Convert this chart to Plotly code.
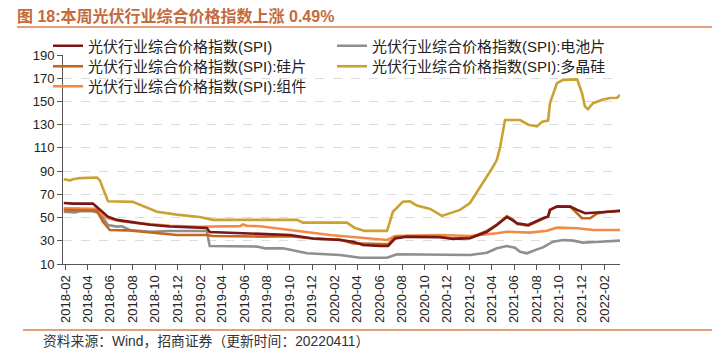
import plotly.graph_objects as go

# ---------------- data ----------------
spi_dates = ["2018-01-26", "2018-02-20", "2018-04-15", "2018-04-28", "2018-05-26", "2018-06-19",
             "2018-07-16", "2018-09-17", "2018-11-10", "2019-02-18", "2019-02-26", "2019-04-14",
             "2019-07-12", "2019-08-17", "2019-10-02", "2019-12-03", "2020-02-14", "2020-03-21",
             "2020-04-17", "2020-06-02", "2020-06-24", "2020-07-13", "2020-08-14", "2020-11-12",
             "2020-12-17", "2021-02-01", "2021-03-19", "2021-04-15", "2021-05-12", "2021-05-26",
             "2021-06-09", "2021-07-09", "2021-07-28", "2021-08-18", "2021-09-01", "2021-09-06",
             "2021-09-25", "2021-10-31", "2021-11-19", "2021-12-10", "2022-01-01", "2022-02-08",
             "2022-03-15"]
spi_vals = [62.5, 62, 62, 58.5, 50.8, 48, 46.6, 43.8, 42.3, 41, 37.5, 37, 36, 35.9, 35, 32, 30.7,
            29.2, 26.4, 25.5, 25.5, 32, 33.4, 33, 31.6, 32.2, 37.8, 43.6, 50.5, 48, 45.1, 43.6,
            46.5, 49.4, 51, 56.6, 59.4, 59.4, 56.6, 53.7, 54.2, 55, 55.6]

cell_dates = ["2018-01-26", "2018-02-25", "2018-03-11", "2018-04-15", "2018-05-04", "2018-05-26",
              "2018-06-19", "2018-07-03", "2018-07-24", "2018-09-17", "2018-11-10", "2019-02-18",
              "2019-02-26", "2019-04-30", "2019-07-04", "2019-07-26", "2019-09-13", "2019-11-17",
              "2020-02-14", "2020-04-09", "2020-06-21", "2020-07-18", "2020-11-12", "2021-02-01",
              "2021-03-19", "2021-04-15", "2021-05-12", "2021-06-03", "2021-06-17", "2021-07-06",
              "2021-08-02", "2021-08-18", "2021-09-14", "2021-10-12", "2021-11-08", "2021-12-05",
              "2022-01-20", "2022-03-15"]
cell_vals = [55, 54.5, 55.5, 55.5, 53.7, 43.6, 42.2, 42.5, 39.3, 37.8, 38.4, 38.4, 25.5, 25.5, 25,
             23.5, 23.5, 19.2, 17.8, 15.4, 15.4, 18.4, 18.4, 17.8, 19.7, 23.5, 25.5, 24, 20.6,
             19.2, 22.6, 24.3, 29.2, 30.7, 30.1, 28.4, 29.2, 30.1]

wafer_dates = ["2018-01-26", "2018-03-11", "2018-04-26", "2018-05-12", "2018-05-31", "2018-07-16",
               "2018-09-17", "2018-11-29", "2019-02-18", "2019-03-07", "2019-07-12", "2019-10-02",
               "2019-12-03", "2020-02-14", "2020-03-21", "2020-06-02", "2020-06-24", "2020-07-13",
               "2020-08-14", "2020-11-12", "2020-12-17", "2021-02-01", "2021-03-19", "2021-04-15",
               "2021-05-12", "2021-05-26", "2021-06-09", "2021-07-09", "2021-07-28", "2021-08-18",
               "2021-09-01", "2021-09-06", "2021-09-25", "2021-10-31", "2021-11-19", "2021-12-02",
               "2021-12-24", "2022-01-12", "2022-02-08", "2022-03-15"]
wafer_vals = [56.6, 56, 56, 46.6, 39.3, 39, 37, 35, 35, 34.1, 33.6, 34, 32, 31, 27.8, 27, 27, 33,
              34, 33.5, 32, 32.5, 38.5, 44, 51, 49, 44.5, 43, 46, 49.4, 51, 56.6, 59.6, 59.4, 53,
              49.4, 49.4, 53.5, 55, 56]

poly_dates = ["2018-01-26", "2018-02-12", "2018-02-20", "2018-03-11", "2018-04-26", "2018-05-04",
              "2018-05-26", "2018-08-01", "2018-10-06", "2018-11-29", "2019-01-30", "2019-03-07",
              "2019-07-12", "2019-10-21", "2019-11-06", "2020-03-04", "2020-03-26", "2020-04-22",
              "2020-06-21", "2020-07-07", "2020-08-03", "2020-08-22", "2020-09-10", "2020-10-16",
              "2020-11-17", "2021-01-05", "2021-02-01", "2021-03-08", "2021-04-02", "2021-04-15",
              "2021-04-24", "2021-05-07", "2021-06-17", "2021-07-09", "2021-08-02", "2021-08-16",
              "2021-09-01", "2021-09-06", "2021-09-25", "2021-10-12", "2021-11-19", "2021-12-02",
              "2021-12-10", "2021-12-18", "2022-01-01", "2022-01-26", "2022-02-16", "2022-03-07",
              "2022-03-15"]
poly_vals = [83, 82, 83, 84, 84.5, 82, 64, 63.5, 55, 52.5, 50.5, 48, 48, 48, 45.6, 45.6, 41, 38.5,
             38.5, 55, 63.7, 64, 60.3, 57.4, 51.4, 56.6, 62.5, 79.5, 92.5, 99.7, 111, 134, 134, 130,
             128.5, 132.6, 133.5, 148.5, 165.8, 168.6, 169, 157, 145.6, 143.4, 148.5, 151.4, 153,
             153.2, 155.7]

module_dates = ["2018-01-26", "2018-04-26", "2018-05-04", "2018-05-26", "2018-06-27", "2018-08-20",
                "2018-11-10", "2019-01-30", "2019-05-19", "2019-05-27", "2019-06-07", "2019-07-12",
                "2019-10-02", "2020-01-18", "2020-06-21", "2020-07-13", "2020-11-12", "2021-02-01",
                "2021-04-15", "2021-05-12", "2021-07-14", "2021-08-29", "2021-09-25", "2021-11-19",
                "2022-01-01", "2022-03-15"]
module_vals = [58, 57.5, 53.7, 49.4, 47, 45, 43, 42.1, 42.6, 44, 43, 42.5, 39.3, 35, 30.7, 34.1,
               35, 34.1, 36.5, 37.8, 37, 38.7, 41.3, 40.8, 39.3, 39.3]

names = ["光伏行业综合价格指数(SPI)", "光伏行业综合价格指数(SPI):电池片",
         "光伏行业综合价格指数(SPI):硅片", "光伏行业综合价格指数(SPI):多晶硅",
         "光伏行业综合价格指数(SPI):组件"]
colors = ["#7a1616", "#8f8f8f", "#c4661c", "#c9a231", "#f28a45"]

title_text = "图 18:本周光伏行业综合价格指数上涨 0.49%"
source_text = "资料来源：Wind，招商证券（更新时间：20220411）"

y_ticks = [10, 30, 50, 70, 90, 110, 130, 150, 170, 190]

# ---------------- figure ----------------
FONT = "Liberation Sans, Arial, Noto Sans CJK SC, sans-serif"
W, H = 712, 353
L, R, T, B = 63, 92, 55, 89
pw, ph = W - L - R, H - T - B


def px_x(px):
    return (px - L) / pw


def px_y(py):
    return (H - B - py) / ph


fig = go.Figure()

# (dates, values, name index, legend id)
series = [
    (poly_dates, poly_vals, 3, "legend5"),
    (cell_dates, cell_vals, 1, "legend3"),
    (module_dates, module_vals, 4, "legend6"),
    (wafer_dates, wafer_vals, 2, "legend4"),
    (spi_dates, spi_vals, 0, "legend2"),
]
for d, v, i, lg in series:
    fig.add_trace(go.Scatter(x=d, y=v, mode="lines", name=names[i],
                             line=dict(color=colors[i], width=2.6),
                             legend=lg, hoverinfo="skip"))

leg_common = dict(orientation="h", bgcolor="rgba(0,0,0,0)",
                  font=dict(family=FONT, size=15, color="#222"),
                  xref="container", yref="container",
                  xanchor="left", yanchor="middle", itemclick=False)
col1, col2 = 48 / W, 332 / W
row1, row2, row3 = 1 - 46 / H, 1 - 66.5 / H, 1 - 86.5 / H

fig.update_layout(
    width=W, height=H,
    margin=dict(l=L, r=R, t=T, b=B, autoexpand=False),
    paper_bgcolor="white", plot_bgcolor="white",
    font=dict(family=FONT, size=13, color="#222"),
    title=dict(text="<b>" + title_text + "</b>", xref="container", yref="container",
               x=17 / W, y=1 - 16 / H, xanchor="left", yanchor="middle",
               font=dict(family=FONT, size=16, color="#c46a3c")),
    legend2=dict(leg_common, x=col1, y=row1),
    legend3=dict(leg_common, x=col2, y=row1),
    legend4=dict(leg_common, x=col1, y=row2),
    legend5=dict(leg_common, x=col2, y=row2),
    legend6=dict(leg_common, x=col1, y=row3),
    xaxis=dict(type="date", range=["2018-01-24", "2022-03-15"],
               tick0="2018-02-01", dtick="M2", tickformat="%Y-%m", tickangle=-90,
               ticks="outside", ticklen=5, tickcolor="#555", showline=True, linecolor="#555",
               linewidth=1, showgrid=False, zeroline=False,
               tickfont=dict(family=FONT, size=13, color="#222")),
    yaxis=dict(range=[10, 190], tickvals=y_ticks, ticks="outside", ticklen=5, tickcolor="#555",
               showline=True, linecolor="#555", linewidth=1, showgrid=True,
               gridcolor="#dcdcdc", griddash="dash", gridwidth=1, zeroline=False,
               tickfont=dict(family=FONT, size=13, color="#222")),
    shapes=[
        dict(type="line", xref="paper", yref="paper", x0=px_x(17), x1=px_x(712),
             y0=px_y(27), y1=px_y(27), line=dict(color="#d9814f", width=1.5)),
        dict(type="line", xref="paper", yref="paper", x0=px_x(23), x1=px_x(712),
             y0=px_y(330), y1=px_y(330), line=dict(color="#d9814f", width=1.5)),
    ],
    annotations=[
        dict(text=source_text, xref="paper", yref="paper", x=px_x(41), y=px_y(341),
             xanchor="left", yanchor="middle", showarrow=False,
             font=dict(family=FONT, size=13.8, color="#333")),
    ],
)

fig.write_html("out.html")
